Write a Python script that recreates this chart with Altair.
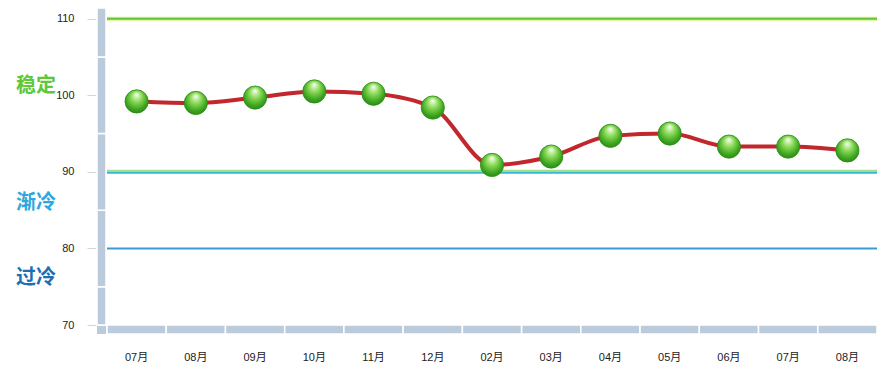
import altair as alt
import pandas as pd

months = ["07月", "08月", "09月", "10月", "11月", "12月", "02月", "03月", "04月", "05月", "06月", "07月", "08月"]
values = [99.2, 99.0, 99.7, 100.5, 100.2, 98.4, 90.9, 92.0, 94.7, 95.0, 93.3, 93.3, 92.8]
y_ticks = [70, 80, 90, 100, 110]
zone_labels = ["稳定", "渐冷", "过冷"]
zone_pos = [101.2, 85.9, 76.1]
zone_colors = ["#5cc83a", "#2fa7dc", "#1d6fb3"]
bar_breaks = [70, 75, 85, 95, 105, 111.4]

W, H = 770, 317
YMAX = 111.4
idx = list(range(len(months)))
df = pd.DataFrame({"i": idx, "v": values})
label_expr = "[" + ",".join("'%s'" % m for m in months) + "][datum.value]"

xscale = alt.Scale(type="band", paddingInner=0, paddingOuter=0, domain=idx)
yscale = alt.Scale(domain=[70, YMAX], nice=False, zero=False)
font = "Liberation Sans, Noto Sans CJK SC"

xenc = alt.X("i:O", scale=xscale, axis=alt.Axis(labelExpr=label_expr, labelAngle=0, ticks=False,
             domain=False, labelPadding=26, labelFontSize=11, labelColor="#222", labelFont=font, title=None))

# x bar segments
xbar = alt.Chart(df).mark_rect(color="#bccbdb", stroke="white", strokeWidth=1.5).encode(
    x=xenc, y=alt.value(H), y2=alt.value(H + 9))

# vertical bar segments
seg = pd.DataFrame({"a": bar_breaks[:-1], "b": bar_breaks[1:]})
ybar = alt.Chart(seg).mark_rect(color="#bccbdb", stroke="white", strokeWidth=1.5).encode(
    y=alt.Y("a:Q", scale=yscale,
            axis=alt.Axis(values=y_ticks, offset=10, tickSize=10, tickColor="#cfd6de", domain=False,
                          grid=False, labelPadding=13, labelFontSize=11, labelColor="#222",
                          labelFont=font, title=None)),
    y2="b:Q", x=alt.value(-10), x2=alt.value(-1))
corner = alt.Chart(pd.DataFrame({"c": [0]})).mark_rect(color="#bccbdb").encode(
    x=alt.value(-10), x2=alt.value(-1), y=alt.value(H + 1), y2=alt.value(H + 9))

def rule(v, color, w, dy=0):
    return alt.Chart(pd.DataFrame({"y": [v]})).mark_rule(color=color, strokeWidth=w, yOffset=dy).encode(
        y=alt.Y("y:Q", scale=yscale))

rules = [
    rule(110, "#d6f28c", 4), rule(110, "#66c43a", 2),
    rule(90, "#9fdf8a", 2, -1), rule(90, "#35b8d8", 2, 1),
    rule(80, "#3a9ad8", 2),
]

zones = alt.Chart(pd.DataFrame({"t": zone_labels, "v": zone_pos, "c": zone_colors})).mark_text(
    fontSize=20, fontWeight="bold", font="Noto Sans CJK SC", align="center", baseline="middle").encode(
    x=alt.value(-71), y=alt.Y("v:Q", scale=yscale), text="t:N", color=alt.Color("c:N", scale=None))

line = alt.Chart(df).mark_line(interpolate="monotone", color="#c1272d", strokeWidth=4).encode(
    x=xenc, y=alt.Y("v:Q", scale=yscale))

grad = alt.Gradient(gradient="radial", stops=[
    alt.GradientStop(color="#f2fde9", offset=0),
    alt.GradientStop(color="#8fdc5c", offset=0.35),
    alt.GradientStop(color="#3da61f", offset=0.75),
    alt.GradientStop(color="#2a8214", offset=1)],
    x1=0.5, y1=0.2, r1=0.02, x2=0.5, y2=0.45, r2=0.6)
pts = alt.Chart(df).mark_circle(size=540, opacity=1, fill=grad, stroke="#2d8a1c", strokeWidth=0.8).encode(
    x=xenc, y=alt.Y("v:Q", scale=yscale))

chart = alt.layer(xbar, ybar, corner, *rules, zones, line, pts).properties(
    width=W, height=H, autosize=alt.AutoSizeParams(type="none"),
    padding={"left": 99, "top": 0, "right": 8, "bottom": 54}, background="white"
).configure_view(stroke=None)

chart.save("out.html", embed_options={"renderer": "svg", "actions": False})
